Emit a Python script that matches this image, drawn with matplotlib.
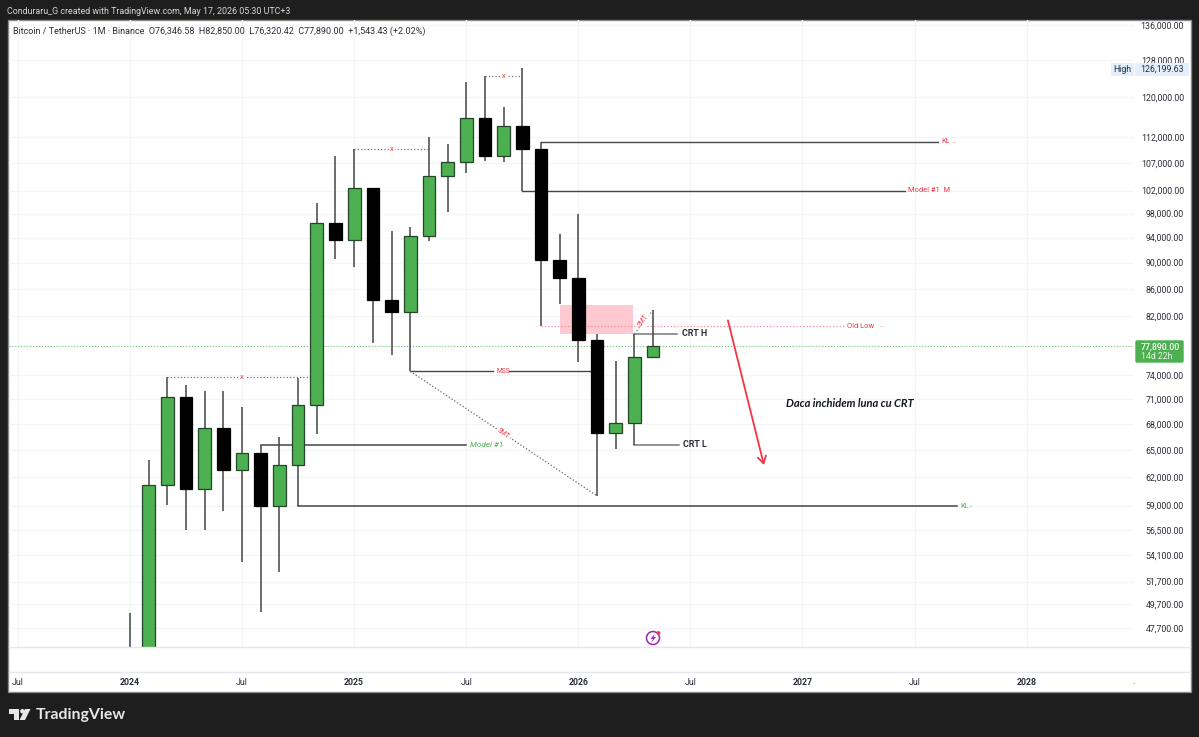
import numpy as np
import matplotlib
matplotlib.use("Agg")
import matplotlib.pyplot as plt
from matplotlib.patches import Rectangle, Polygon, Circle, FancyBboxPatch
from matplotlib.ticker import NullLocator

plt.rcParams['font.family'] = ['Roboto', 'DejaVu Sans']

# monthly candles, index 0 is Jan 2024
months = np.arange(29)
opens = [42283, 42580, 61130, 71280, 60672, 67491, 62772, 64628, 58974, 63328, 70292, 96407,
         93576, 102429, 84350, 82550, 94172, 104591, 107146, 115764, 108246, 114049, 109608, 90360,
         87648, 78700, 66980, 68100, 76346.58]
highs = [48969, 63913, 73777, 72797, 71979, 71980, 70079, 65590, 66498, 73620, 99800, 108353,
         109588, 102500, 95000, 95758, 111980, 110530, 123218, 124474, 117900, 126199.63, 111000, 94500,
         97900, 79500, 75800, 79500, 82850]
lows = [38555, 41884, 59005, 56552, 56555, 58402, 53485, 49000, 52550, 58946, 66835, 90500,
        89256, 78258, 76606, 74508, 93377, 98200, 105100, 107350, 107255, 102000, 80600, 83800,
        75700, 60000, 65040, 65600, 76320.42]
closes = [42580, 61130, 71280, 60672, 67491, 62772, 64628, 58974, 63328, 70292, 96407, 93576,
          102429, 84350, 82550, 94172, 104591, 107146, 115764, 108246, 114049, 109608, 90360, 87648,
          78700, 66980, 68100, 76346.58, 77890]

price_ticks = [136000, 128000, 120000, 112000, 107000, 102000, 98000, 94000, 90000, 86000, 82000,
               74000, 71000, 68000, 65000, 62000, 59000, 56500, 54100, 51700, 49700, 47700]
month_ticks = [-6, 0, 6, 12, 18, 24, 30, 36, 42, 48]
month_labels = ['Jul', '2024', 'Jul', '2025', 'Jul', '2026', 'Jul', '2027', 'Jul', '2028']

last_price = 77890
old_low = 80600
crt_high = 79500
crt_low = 65600
model_level = 65560
model_m_level = 102000
kl_red = 111000
kl_green = 58946
mss_level = 74508
smt_low = 60000

GREEN = '#4caf50'
RED = '#f23645'
LINE = '#454545'
TEXT = '#2a2e39'
GRID = '#f5f5f7'
LABEL = 6.3

fig = plt.figure(figsize=(11.99, 7.37), dpi=100, facecolor='#1e1e1e')

# chrome is placed in a pixel overlay
over = fig.add_axes([0, 0, 1, 1], zorder=3)
over.set_xlim(0, 1199)
over.set_ylim(737, 0)
over.axis('off')

fig.add_artist(Rectangle((8, 20), 1183, 672, transform=over.transData, fc='white', ec='#8a8a8a', lw=1))
for py in [647, 672]:
    over.plot([9, 1190], [py, py], color='#e6e7ee', lw=1, zorder=0)

ax = fig.add_axes([9 / 1199, 1 - 647 / 737, 1125 / 1199, 627 / 737], zorder=2, facecolor='none')
ax.set_yscale('log')
ax.set_xlim(-6.48, 53.75)
ax.set_ylim(46140, 137190)
for s in ax.spines.values():
    s.set_visible(False)
ax.yaxis.set_minor_locator(NullLocator())
ax.yaxis.tick_right()
ax.set_yticks(price_ticks, labels=[f'{p:,.2f}' for p in price_ticks])
ax.set_xticks(month_ticks, labels=month_labels)
ax.tick_params(axis='both', length=0, labelsize=LABEL, labelcolor=TEXT)
ax.tick_params(axis='y', pad=36)
ax.tick_params(axis='x', pad=22)
for lab in ax.get_yticklabels():
    lab.set_ha('right')
for lab in ax.get_xticklabels():
    if lab.get_text().isdigit():
        lab.set_fontweight('bold')
ax.grid(True, color=GRID, lw=1)
ax.set_axisbelow(True)

# zone behind the candles
ax.add_patch(Rectangle((23, 79490), 3.95, 83600 - 79490, fc='#ffc9d1', ec='none', zorder=1))
ax.axhline(last_price, color=GREEN, ls=':', lw=0.8, alpha=0.8, zorder=1)

# candles
ax.vlines(months, lows, highs, color=LINE, lw=1.1, zorder=3)
for m, o, c in zip(months, opens, closes):
    up = c >= o
    ax.bar(m, abs(c - o), bottom=min(o, c), width=0.68, color=GREEN if up else '#000000',
           edgecolor='#24452a' if up else '#000000', lw=0.9, zorder=4)


def level(x0, x1, y, label=None, lx=None, color=RED, dot=None, ls='-', lc=LINE, lw=1.0, size=5.4, style='normal'):
    ax.plot([x0, x1], [y, y], color=lc, ls=ls, lw=lw, zorder=2)
    if label:
        ax.text(lx, y, label, color=color, fontsize=size, style=style, ha='left', va='center', zorder=5)
    if dot:
        ax.plot([dot, dot + 0.05], [y, y], color=color, lw=0.5, alpha=0.6, zorder=2)


# swing highs
for x0, x1, y, xm in [(2, 9.7, 73777, 6), (12, 16, 109588, 14), (19, 21, 124474, 20)]:
    ax.plot([x0, x1], [y, y], color='#777777', ls=':', lw=0.9, zorder=2)
    ax.text(xm, y, 'x', color=RED, fontsize=5.5, ha='center', va='center', zorder=5,
            bbox=dict(fc='white', ec='none', pad=0.8))

level(22, 43.25, kl_red, 'KL', 43.42, dot=44.05)
level(21, 41.5, model_m_level, 'Model #1  M', 41.65)
level(22, 38.2, old_low, 'Old Low', 38.38, ls=':', lc='#f58a98', lw=0.9, dot=40.2)
level(15, 19.45, mss_level, 'MSS', 19.6, size=4.8)
level(20.3, 24.7, mss_level)
level(7, 18.0, model_level, 'Model #1', 18.2, color=GREEN, lw=1.1, style='italic', size=5.9, dot=19.9)
level(9, 44.3, kl_green, 'KL', 44.45, color=GREEN, lw=1.1, dot=44.95)
level(27, 29.3, crt_high, lc='#777777', lw=1.1)
level(27, 29.4, crt_low, lc='#777777', lw=1.1)
ax.text(29.55, crt_high, 'CRT H', color=TEXT, fontsize=6.4, fontweight='bold', va='center')
ax.text(29.6, crt_low, 'CRT L', color=TEXT, fontsize=6.4, fontweight='bold', va='center')

# dotted legs
ax.plot([15, 25], [mss_level, smt_low], color='#666666', ls=':', lw=0.9, zorder=2)
ax.text(20, 66800, 'SMT', color=RED, fontsize=4.8, rotation=-35, ha='center', va='center', zorder=5,
        bbox=dict(fc='white', ec='none', pad=0.5))
ax.plot([27, 28], [crt_high, 82850], color='#888888', ls=':', lw=1.0, zorder=2)
ax.text(27.5, 81300, 'SMT', color=RED, fontsize=4.8, rotation=55, ha='center', va='center', zorder=5,
        bbox=dict(fc='white', ec='none', pad=0.5))

ax.annotate('', xy=(33.94, 63300), xytext=(32.01, 81400), zorder=5,
            arrowprops=dict(arrowstyle='->,head_length=0.5,head_width=0.3', color=RED, lw=1.3, shrinkA=0, shrinkB=0))
ax.text(35.1, 70400, 'Daca inchidem luna cu CRT', color='#131722', fontsize=8.0,
        fontweight='bold', style='italic', family=['Lato', 'DejaVu Sans'], va='center')

# header and legend
over.text(7, 11, 'Conduraru_G created with TradingView.com, May 17, 2026 05:30 UTC+3', color='#d8d8d8',
          fontsize=6.4, va='center')
over.text(13, 31, 'Bitcoin / TetherUS \u00b7 1M \u00b7 Binance  O76,346.58  H82,850.00  L76,320.42  C77,890.00  '
          '+1,543.43 (+2.02%)', color=TEXT, fontsize=6.45, va='center')
over.text(1134, 682, '.', fontsize=LABEL, color=TEXT, ha='center', va='center')

# price tags
over.add_patch(Rectangle((1111, 63), 23, 13, fc='#e3effd', ec='none'))
over.add_patch(Rectangle((1135, 63), 54, 13, fc='#e3effd', ec='none'))
over.text(1122.5, 69.5, 'High', color=TEXT, fontsize=LABEL, ha='center', va='center')
over.text(1184, 69.5, '126,199.63', color=TEXT, fontsize=LABEL, ha='right', va='center')
over.add_patch(FancyBboxPatch((1136, 341), 47, 21, boxstyle='round,pad=0,rounding_size=1', fc=GREEN, ec=GREEN, lw=1))
over.text(1141, 346.5, '77,890.00', color='white', fontsize=LABEL, fontweight='medium', va='center')
over.text(1141, 356.5, '14d 22h', color='#e6f4e7', fontsize=LABEL, va='center')

# lightning badge
over.add_patch(Circle((653, 638), 6.5, fc='white', ec='#9c27b0', lw=1.1))
over.add_patch(Polygon([(655, 633.5), (650.5, 639), (653, 639), (651, 643), (656, 637), (653.5, 637)], fc='#9c27b0', ec='none'))
over.add_patch(Circle((658.5, 633), 1.9, fc='#f23645', ec='none'))

# logo
over.add_patch(Polygon([(9, 709), (19, 709), (19, 720), (14, 720), (14, 713.5), (9, 713.5)], fc='#e8e8e8', ec='none'))
over.add_patch(Circle((22.3, 711.2), 2.2, fc='#e8e8e8', ec='none'))
over.add_patch(Polygon([(25, 709), (30.5, 709), (25, 720), (19.5, 720)], fc='#e8e8e8', ec='none'))
over.text(36, 715.5, 'TradingView', color='#e8e8e8', fontsize=11.4, fontweight='bold', family=['Lato', 'DejaVu Sans'], va='center')

fig.savefig('out.png', dpi=100)
